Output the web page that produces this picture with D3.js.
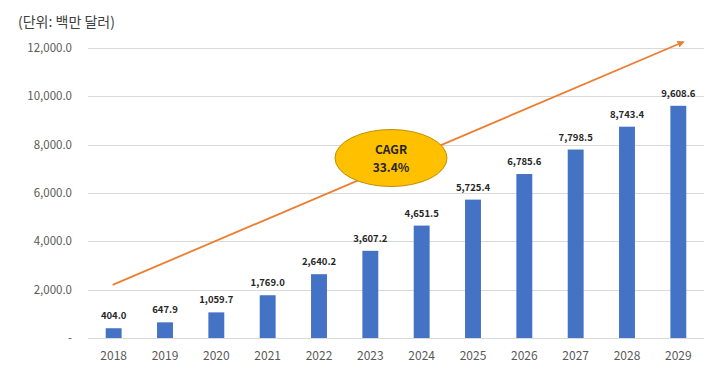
<!DOCTYPE html>
<html><head><meta charset="utf-8">
<script src="https://cdn.jsdelivr.net/npm/d3@7"></script>
<style>body{margin:0;background:#fff}svg{display:block}</style>
</head><body>
<script>
const years = ["2018","2019","2020","2021","2022","2023","2024","2025","2026","2027","2028","2029"];
const values = [404.0, 647.9, 1059.7, 1769.0, 2640.2, 3607.2, 4651.5, 5725.4, 6785.6, 7798.5, 8743.4, 9608.6];
const valueLabels = ["404.0","647.9","1,059.7","1,769.0","2,640.2","3,607.2","4,651.5","5,725.4","6,785.6","7,798.5","8,743.4","9,608.6"];
const yTicks = [0, 2000, 4000, 6000, 8000, 10000, 12000];
const yTickLabels = ["-", "2,000.0", "4,000.0", "6,000.0", "8,000.0", "10,000.0", "12,000.0"];
const trendYears = ["2018", "2029"];
const trendValues = [2200, 12250];
const unitText = "(단위: 백만 달러)";
const cagrText = ["CAGR", "33.4%"];

const W = 724, H = 380;
const svg = d3.select("body").append("svg").attr("width", W).attr("height", H);
const x = d3.scaleBand().domain(years).range([88, 704]).paddingInner(0.69).paddingOuter(0.345);
const xc = d3.scaleBand().domain(years).range([88, 704]);
const y = d3.scaleLinear().domain([0, 12000]).range([338, 48]);

const font = "'Noto Sans CJK KR','Noto Sans',sans-serif";

svg.append("text").attr("x", 18).attr("y", 27).attr("font-family", font)
  .attr("font-size", 14).attr("fill", "#404040").text(unitText);

// grid
svg.append("g").selectAll("line").data(yTicks).join("line")
  .attr("x1", 88).attr("x2", 704).attr("y1", d => Math.round(y(d)) + 0.5).attr("y2", d => Math.round(y(d)) + 0.5)
  .attr("stroke", "#d9d9d9").attr("stroke-width", 1);

// y labels
svg.append("g").selectAll("text").data(yTicks).join("text")
  .attr("x", 72).attr("y", d => y(d) + 4).attr("text-anchor", "end")
  .attr("font-family", font).attr("font-size", 11.5).attr("fill", "#595959")
  .text((d, i) => yTickLabels[i]);

// x labels
svg.append("g").selectAll("text").data(years).join("text")
  .attr("x", d => xc(d) + xc.bandwidth() / 2).attr("y", 360).attr("text-anchor", "middle")
  .attr("font-family", font).attr("font-size", 12).attr("fill", "#595959").text(d => d);

// bars
svg.append("g").selectAll("rect").data(values).join("rect")
  .attr("x", (d, i) => x(years[i])).attr("width", x.bandwidth())
  .attr("y", d => y(d)).attr("height", d => y(0) - y(d)).attr("fill", "#4472C4");

// bar labels
svg.append("g").selectAll("text").data(values).join("text")
  .attr("x", (d, i) => xc(years[i]) + xc.bandwidth() / 2).attr("y", d => y(d) - 9)
  .attr("text-anchor", "middle").attr("font-family", font).attr("font-size", 9.5)
  .attr("font-weight", "bold").attr("fill", "#262626").text((d, i) => valueLabels[i]);

// trend arrow
const defs = svg.append("defs");
defs.append("marker").attr("id", "arr").attr("viewBox", "0 0 10 10").attr("refX", 8).attr("refY", 5)
  .attr("markerWidth", 4).attr("markerHeight", 4).attr("orient", "auto")
  .append("path").attr("d", "M0,0 L10,5 L0,10 Z").attr("fill", "#ED7D31");
const line = d3.line().x((d, i) => xc(trendYears[i]) + xc.bandwidth() / 2 + (i === 1 ? 5 : -1)).y(d => y(d));
svg.append("path").datum(trendValues).attr("d", line).attr("fill", "none")
  .attr("stroke", "#ED7D31").attr("stroke-width", 1.8).attr("marker-end", "url(#arr)");

// CAGR ellipse
const ex = 391, ey = 158;
svg.append("ellipse").attr("cx", ex).attr("cy", ey).attr("rx", 56).attr("ry", 28.5)
  .attr("fill", "#FFC000").attr("stroke", "#BF9000").attr("stroke-width", 1);
svg.append("text").attr("x", ex).attr("y", ey - 4).attr("text-anchor", "middle")
  .attr("font-family", font).attr("font-size", 12).attr("font-weight", "bold").attr("fill", "#262626").text(cagrText[0]);
svg.append("text").attr("x", ex).attr("y", ey + 14).attr("text-anchor", "middle")
  .attr("font-family", font).attr("font-size", 12).attr("font-weight", "bold").attr("fill", "#262626").text(cagrText[1]);
</script>
</body></html>
